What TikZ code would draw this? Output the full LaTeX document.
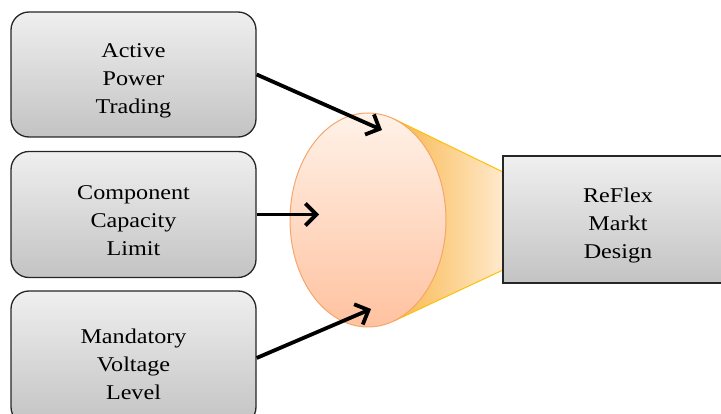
\documentclass[tikz,border=0pt]{standalone}
\usepackage{fontspec}
\setmainfont{Liberation Serif}[FakeStretch=1.15]
\usetikzlibrary{shapes.geometric,arrows.meta}
\definecolor{boxtop}{HTML}{EFEFEF}
\definecolor{boxbot}{HTML}{C3C3C3}
\definecolor{elltop}{HTML}{FFF2E8}
\definecolor{ellbot}{HTML}{FFC2A0}
\definecolor{elledge}{HTML}{F5A66C}
\definecolor{coneL}{HTML}{F8B84C}
\definecolor{coneR}{HTML}{FFE9CC}
\definecolor{coneedge}{HTML}{FFC000}
\newcommand\mytopstrut{\rule{0pt}{27pt}}
\tikzset{
  inbox/.style={draw=black!85, line width=1.3pt, rounded corners=18pt,
    top color=boxtop, bottom color=boxbot, minimum width=245pt,
    align=center, font=\fontsize{21}{28}\selectfont},
  outbox/.style={draw=black!85, line width=1.3pt,
    top color=boxtop, bottom color=boxbot, minimum width=230pt, minimum height=127pt,
    align=center, font=\fontsize{21}{28}\selectfont},
  bigarrow/.style={line width=3.8pt, -{Straight Barb[length=11pt,width=22pt]}}
}
\begin{document}
\begin{tikzpicture}[x=1pt,y=-1pt]
\useasboundingbox (0,0) rectangle (721,414);
\clip (0,0) rectangle (721,414);
% cone
\coordinate (ct1) at (394,119);
\coordinate (ct2) at (503,172);
\coordinate (cb2) at (503,270);
\coordinate (cb1) at (394,321);
\shade[left color=coneL, right color=coneR] (ct1) -- (ct2) -- (cb2) -- (cb1) -- cycle;
\draw[coneedge, line width=1pt] (ct1) -- (ct2);
\draw[coneedge, line width=1pt] (cb1) -- (cb2);
% ellipse
\node[ellipse, draw=elledge, line width=1pt, top color=elltop, bottom color=ellbot,
  minimum width=156pt, minimum height=214pt, inner sep=0pt] (ell) at (368,220) {};
% boxes
\node[inbox, minimum height=125pt] (b1) at (133.5,74.5) {\mytopstrut Active\\Power\\Trading};
\node[inbox, minimum height=126pt] (b2) at (133.5,214.5) {\mytopstrut Component\\Capacity\\Limit};
\node[inbox, minimum height=134pt] (b3) at (133.5,358) {\mytopstrut Mandatory\\Voltage\\Level};
\node[outbox] (out) at (618,219.5) {\mytopstrut ReFlex\\Markt\\Design};
% arrows
\coordinate (e1) at (382,130);
\coordinate (e2) at (319,214.5);
\coordinate (e3) at (371,309);
\draw[bigarrow] (b1.east) -- (e1);
\draw[bigarrow] (b2.east) -- (e2);
\draw[bigarrow] (b3.east) -- (e3);
\end{tikzpicture}
\end{document}
